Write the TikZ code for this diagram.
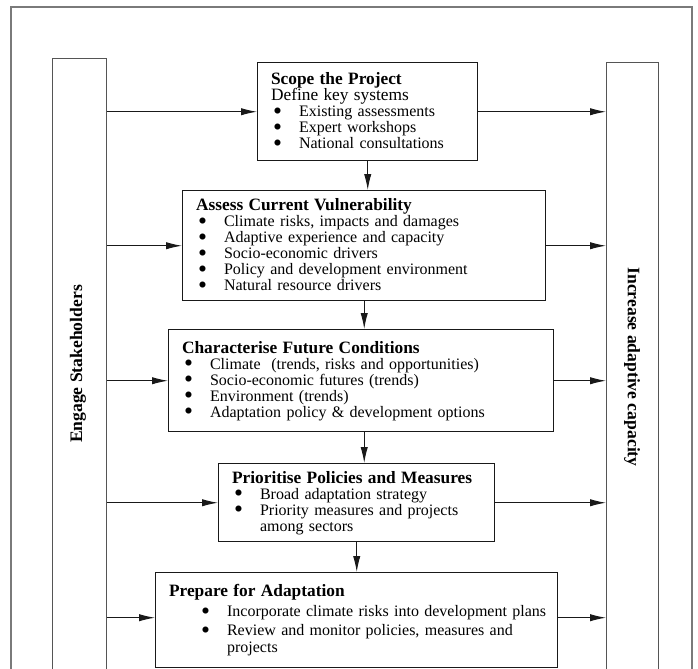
\documentclass[tikz,border=0pt]{standalone}
\usepackage{fontspec}
\setmainfont{Liberation Serif}
\usetikzlibrary{arrows.meta}
\definecolor{framegray}{HTML}{7A7A7A}
\definecolor{sidegray}{HTML}{555555}
\setlength{\lineskiplimit}{-6pt}
\newcommand{\bigdot}{\raisebox{-2.2pt}{\scalebox{1.6}{\textbullet}}}
\newcommand{\bitem}[1]{\makebox[21pt][l]{\hspace{1.5pt}\bigdot}#1}
\newcommand{\stagetitle}[1]{{\fontsize{13}{12}\selectfont\bfseries #1}}

\begin{document}
\begin{tikzpicture}[x=0.75pt,y=-0.75pt,
  stagebox/.style={draw=black!90,line width=1.1pt,anchor=north west,align=left,
    inner xsep=10pt,inner ysep=0pt,font=\fontsize{12}{12}\selectfont},
  sidebox/.style={draw=sidegray,line width=1pt,anchor=north west},
  sidelabel/.style={font=\fontsize{13.2}{13}\selectfont\bfseries},
  conn/.style={draw=black!90,line width=0.75pt,-{Latex[length=12pt,width=5.5pt]}}]

  \useasboundingbox (0,0) rectangle (698,668);
  \clip (0,0) rectangle (698,668);
  \draw[framegray,line width=1pt] (11,7) rectangle (692,700); %outer frame, cut at the bottom

  \node[sidebox,minimum width=40.5pt,minimum height=460.5pt] (lsh) at (52,58) {};
  \node[sidebox,minimum width=39pt,minimum height=480pt] (rcap) at (606,62) {};
  \node[sidelabel,rotate=90] (lshtext) at (78,364) {Engage Stakeholders};
  \node[sidelabel,rotate=-90] (rcaptext) at (632,367) {Increase adaptive capacity};

  \node[stagebox,text width=145pt,minimum height=73.5pt] (b1) at (257,62)
   {\stagetitle{Scope the Project}\\
    {\fontsize{13}{12}\selectfont Define key systems}\\
    \bitem{Existing assessments}\\
    \bitem{Expert workshops}\\
    \bitem{National consultations}};
  \node[stagebox,text width=252.25pt,minimum height=82.5pt] (b2) at (182,190)
   {\stagetitle{Assess Current Vulnerability}\\
    \bitem{Climate risks, impacts and damages}\\
    \bitem{Adaptive experience and capacity}\\
    \bitem{Socio-economic drivers}\\
    \bitem{Policy and development environment}\\
    \bitem{Natural resource drivers}};
  \node[stagebox,text width=268.75pt,minimum height=76.5pt] (b3) at (168,329)
   {\stagetitle{Characterise Future Conditions}\\
    \bitem{Climate~ (trends, risks and opportunities)}\\
    \bitem{Socio-economic futures (trends)}\\
    \bitem{Environment (trends)}\\
    \bitem{Adaptation policy \& development options}};
  \node[stagebox,text width=187pt,minimum height=58.5pt] (b4) at (218,463)
   {\stagetitle{Prioritise Policies and Measures}\\
    \bitem{Broad adaptation strategy}\\
    \bitem{Priority measures and projects}\\
    \hspace*{21pt}among sectors};
  \node[stagebox,text width=281.5pt,minimum height=71.25pt] (b5) at (155,572)
   {\stagetitle{Prepare for Adaptation}\\[3pt]
    \hspace*{24pt}\mbox{\makebox[19.5pt][l]{\bigdot}Incorporate climate risks into development plans}\\[2pt]
    \hspace*{24pt}\mbox{\makebox[19.5pt][l]{\bigdot}Review and monitor policies, measures and}\\[1pt]
    \hspace*{43.5pt}projects};

  % stakeholders in, capacity out
  \foreach \b/\s in {b1/0,b2/0,b3/0,b4/0,b5/1.9}{
    \draw[conn] ([yshift=\s pt]lsh.east |- \b.west) -- ([yshift=\s pt]\b.west);
    \draw[conn] ([yshift=\s pt]\b.east) -- ([yshift=\s pt]rcap.west |- \b.east);
  }
  \draw[conn] (b1.south) -- (b1.south |- b2.north);
  \draw[conn] (b2.south) -- (b2.south |- b3.north);
  \draw[conn] (b3.south -| b2.south) -- (b2.south |- b4.north);
  \draw[conn] (b4.south) -- (b4.south |- b5.north);
\end{tikzpicture}
\end{document}
